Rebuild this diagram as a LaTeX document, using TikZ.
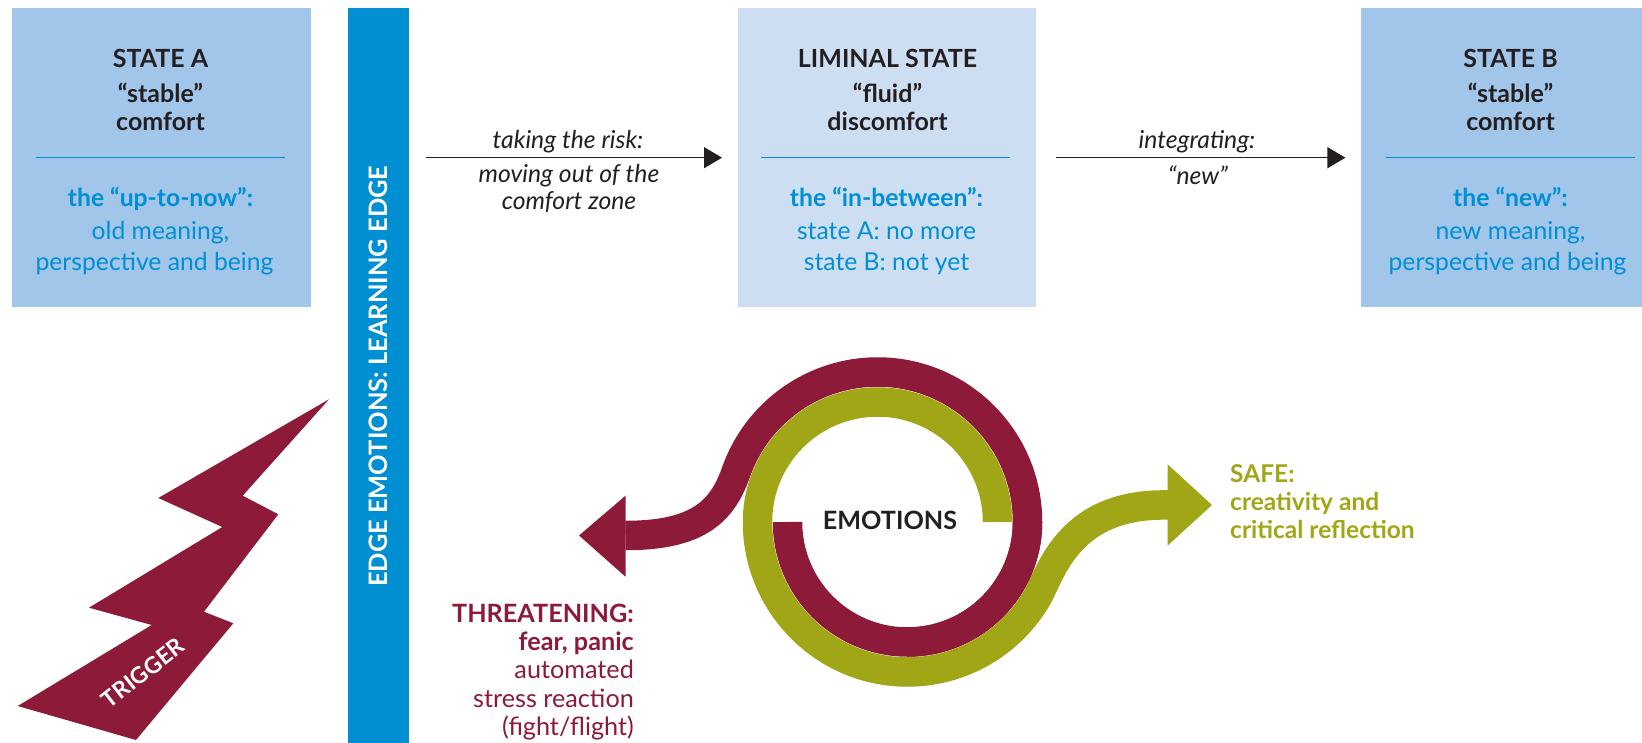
\documentclass[tikz,border=0pt]{standalone}
\usepackage{fontspec}
\setmainfont{Lato}
\usetikzlibrary{arrows.meta}
\definecolor{cdark}{HTML}{231F20}
\definecolor{cblue}{HTML}{008FD3}
\definecolor{cboxa}{HTML}{A2C5EA}
\definecolor{cboxl}{HTML}{CDDEF3}
\definecolor{cred}{HTML}{8D1A39}
\definecolor{cgreen}{HTML}{A0A616}
\tikzset{
  x=1pt,y=-1pt,
  box/.style={fill=#1,draw=none,inner sep=0pt,anchor=north west},
  head/.style={text=cdark,align=center,inner sep=0pt,font=\fontsize{25}{28.3}\selectfont\bfseries},
  sub/.style={text=cblue,align=center,inner sep=0pt,font=\fontsize{24.7}{31}\selectfont},
  lab/.style={text=cdark,align=center,inner sep=0pt,font=\fontsize{24.7}{27}\selectfont\itshape},
  rule/.style={draw=cblue,line width=1.1pt},
  arrowline/.style={draw=cdark,line width=1.2pt,-{Triangle[length=18pt,width=21pt]}},
  band/.style={line width=29.5pt,line cap=butt,line join=round,draw=#1},
  tip/.style={fill=#1,draw=none},
}
\begin{document}
\begin{tikzpicture}
\useasboundingbox (0,0) rectangle (1642,743);
% boxes
\node[box=cboxa,minimum width=299pt,minimum height=299pt] (stateA) at (11.5,8) {};
\node[box=cblue,minimum width=61.3pt,minimum height=735pt] (bar) at (347.7,8) {};
\node[box=cboxl,minimum width=297.5pt,minimum height=299pt] (liminal) at (738,8) {};
\node[box=cboxa,minimum width=281.6pt,minimum height=299pt] (stateB) at (1360.4,8) {};
\draw[rule,shorten <=24pt,shorten >=26pt] (stateA.west) -- (stateA.east);
\draw[rule,shorten <=23pt,shorten >=26pt] (liminal.west) -- (liminal.east);
\draw[rule,shorten <=25.6pt,shorten >=7pt] (stateB.west) -- (stateB.east);
% box texts
\node[head] (ah) at (160.5,89.7) {STATE A\\[6.7pt]“stable”\\comfort};
\node[sub] (as) at (160.5,231) {\textbf{the “up-to-now”:}\\[1.7pt]old meaning,\\perspective and being\kern12pt};
\node[head] (lh) at (887.5,89.7) {LIMINAL STATE\\[6.7pt]“fluid”\\discomfort};
\node[sub] (ls) at (886.5,231) {\textbf{the “in-between”:}\\[1.7pt]state A: no more\\state B: not yet};
\node[head] (bh) at (1510.5,89.7) {STATE B\\[6.7pt]“stable”\\comfort};
\node[sub] (bs) at (1510.5,231) {\textbf{the “new”:}\\[1.7pt]new meaning,\\perspective and being\kern6pt};
% bar text
\node[text=white,rotate=90,inner sep=0pt,font=\fontsize{25.4}{30}\selectfont\bfseries] (bart) at (378.7,376.2) {EDGE EMOTIONS: LEARNING EDGE};
% arrows
\draw[arrowline,shorten <=17pt,shorten >=16pt] (liminal.west -| bar.east) -- (liminal.west);
\draw[arrowline,shorten <=20pt,shorten >=15pt] (liminal.east) -- (stateB.west);
\node[lab] (l1) at (568,141.5) {taking the risk:};
\node[lab] (l2) at (569,188) {moving out of the\\comfort zone};
\node[lab] (l3) at (1197,141.5) {integrating:};
\node[lab] (l4) at (1198,175) {“new”};
% trigger
\fill[cred] (329,399.3) -- (242.7,495.7) -- (278.3,514.3) -- (204,611.7) -- (233.3,623.3) -- (136,740) -- (17.7,706) -- (151.7,625) -- (89,607.7) -- (222.3,527) -- (158.3,498) -- cycle;
\node[text=white,rotate=38,inner sep=0pt,font=\fontsize{23}{26}\selectfont\bfseries] (trig) at (143,673) {TRIGGER};
% emotions rings
\coordinate (redstart) at (787.5,522);
\coordinate (greenstart) at (997.5,522);
\coordinate (redbase) at (625.5,535.5);
\coordinate (greenbase) at (1168,505);
% red: lower half (r=120), upper half (r=150), S to the left arrow
\draw[band=cred] (redstart) arc[start angle=180,end angle=0,radius=120]
   arc[start angle=0,end angle=-160,radius=150]
   .. controls (723,510) and (700,535.5) .. (redbase);
\fill[tip=cred] (625.5,495.7) -- (579,535.5) -- (625.5,576.7) -- cycle;
% green: top half (r=120), lower half (r=150), S to the right arrow
\draw[band=cgreen] (greenstart) arc[start angle=0,end angle=-180,radius=120]
   arc[start angle=180,end angle=30,radius=150]
   .. controls (1052,570) and (1070,503) .. (greenbase);
\fill[tip=cgreen] (1167.5,464.3) -- (1212,505) -- (1167.5,545.7) -- cycle;
% the red ring lies over the green S where they meet
\draw[band=cred] (907.5,642) arc[start angle=90,end angle=0,radius=120];
\node[text=cdark,inner sep=0pt,font=\fontsize{25.2}{28}\selectfont\bfseries] (emo) at (890,520) {EMOTIONS};
% side texts
\node[text=cred,align=right,anchor=east,inner sep=0pt,font=\fontsize{25.2}{28.2}\selectfont] (threat) at (634,672) {\textbf{THREATENING:}\\\textbf{fear, panic}\\automated\\stress reaction\\(fight/flight)};
\node[text=cgreen,align=left,anchor=west,inner sep=0pt,font=\fontsize{24.5}{28}\selectfont\bfseries] (safe) at (1230,502) {SAFE:\\creativity and\\critical reflection};
\end{tikzpicture}
\end{document}
